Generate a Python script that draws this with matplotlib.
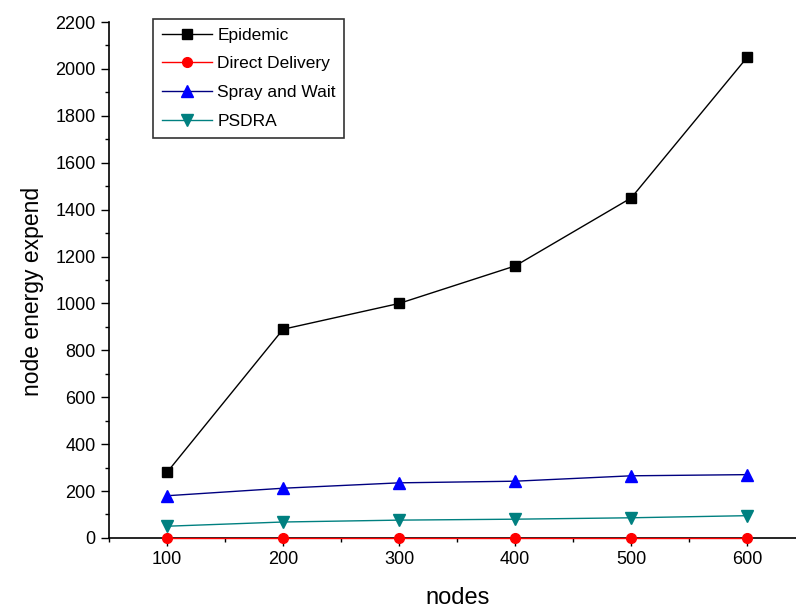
import matplotlib
matplotlib.use("Agg")
import matplotlib.pyplot as plt
from matplotlib.ticker import MultipleLocator

plt.rcParams['font.family'] = ['Liberation Sans', 'DejaVu Sans']

nodes = [100, 200, 300, 400, 500, 600]
epidemic = [280, 890, 1000, 1160, 1450, 2050]
direct = [0, 0, 0, 0, 0, 0]
spray = [180, 212, 235, 242, 265, 270]
psdra = [50, 68, 76, 80, 86, 95]

fig = plt.figure(figsize=(7.96, 6.12), dpi=100)
ax = fig.add_axes([0.137, 0.121, 0.863, 0.843])

ax.plot(nodes, epidemic, color='black', marker='s', ms=7, lw=1, label='Epidemic', clip_on=False, zorder=3)
ax.plot(nodes, direct, color='red', marker='o', ms=7, lw=1, label='Direct Delivery', clip_on=False, zorder=3)
ax.plot(nodes, spray, color='#000080', marker='^', mfc='#0000ff', mec='#0000ff', ms=9, lw=1, label='Spray and Wait', clip_on=False, zorder=3)
ax.plot(nodes, psdra, color='#008080', marker='v', ms=9, lw=1, label='PSDRA', clip_on=False, zorder=3)

ax.set_xlim(50, 642)
ax.set_ylim(0, 2200)
ax.xaxis.set_major_locator(MultipleLocator(100))
ax.xaxis.set_minor_locator(MultipleLocator(50))
ax.yaxis.set_major_locator(MultipleLocator(200))
ax.yaxis.set_minor_locator(MultipleLocator(100))

for s in ['top', 'right']:
    ax.spines[s].set_visible(False)
for s in ['left', 'bottom']:
    ax.spines[s].set_linewidth(1.2)

ax.tick_params(axis='both', which='major', direction='out', length=6, width=1, labelsize=13)
ax.tick_params(axis='both', which='minor', direction='out', length=3, width=1)

ax.set_xlabel('nodes', fontsize=17, labelpad=14)
ax.xaxis.set_label_coords(0.507, -0.095)
ax.set_ylabel('node energy expend', fontsize=16.5)
ax.yaxis.set_label_coords(-0.112, 0.477)
ax.yaxis.label.set_va('center')

leg = ax.legend(loc='upper left', bbox_to_anchor=(0.064, 1.006), fontsize=12.5, frameon=True,
                fancybox=False, edgecolor='black', handlelength=2.9, borderpad=0.5,
                labelspacing=0.78, handletextpad=0.3, borderaxespad=0, numpoints=1)
leg.get_frame().set_linewidth(1.2)

fig.savefig('out.png', dpi=100)
